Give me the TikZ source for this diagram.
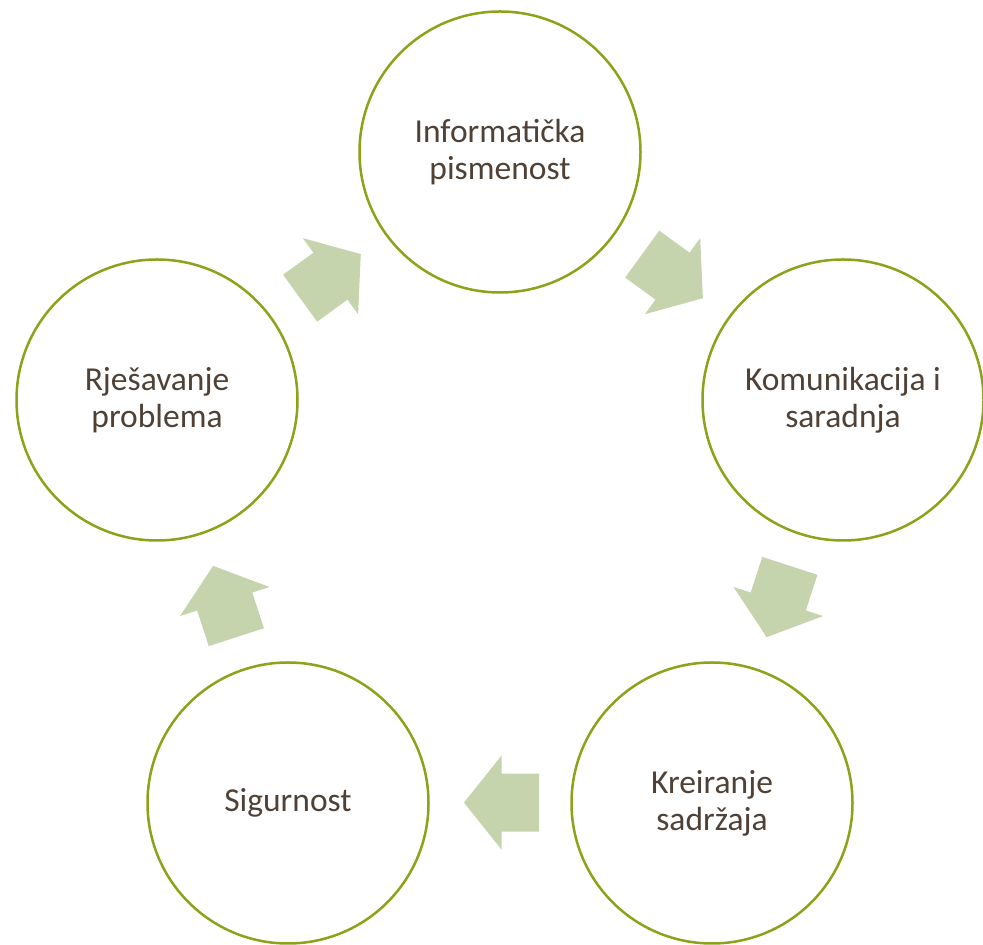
\documentclass[tikz,border=0pt]{standalone}
\usepackage{fontspec}
\setmainfont{Carlito}
\usetikzlibrary{calc}
\definecolor{ringgreen}{RGB}{140,163,25}
\definecolor{arrowgreen}{RGB}{197,212,173}
\definecolor{txtbrown}{RGB}{79,65,54}
\begin{document}
\begin{tikzpicture}[x=1pt,y=1pt,
  ring/.style={circle,draw=ringgreen,line width=2.5pt,fill=white,minimum size=281pt,inner sep=0pt,
    align=center,text=txtbrown,font=\fontsize{33.5}{37}\selectfont},
  blockarrow/.style={fill=arrowgreen,draw=none}]
\useasboundingbox (0,0) rectangle (983,945);
\coordinate (ctr) at (501.5,433.4);
\node[ring] (info) at (500,793) {Informatička\\pismenost};
\node[ring] (komu) at (843,545) {Komunikacija i\\saradnja};
\node[ring] (krei) at (712,142) {Kreiranje\\sadržaja};
\node[ring] (sigu) at (288,142) {Sigurnost};
\node[ring] (rjes) at (157,545) {Rješavanje\\problema};
\foreach \a in {54,-18,-90,-162,126}{
  \fill[blockarrow,shift={($(ctr)+(\a:291)$)},rotate=\a-90]
    (-37.5,-29) -- (0,-29) -- (0,-47) -- (37.5,0) -- (0,47) -- (0,29) -- (-37.5,29) -- cycle;
}
\end{tikzpicture}
\end{document}
